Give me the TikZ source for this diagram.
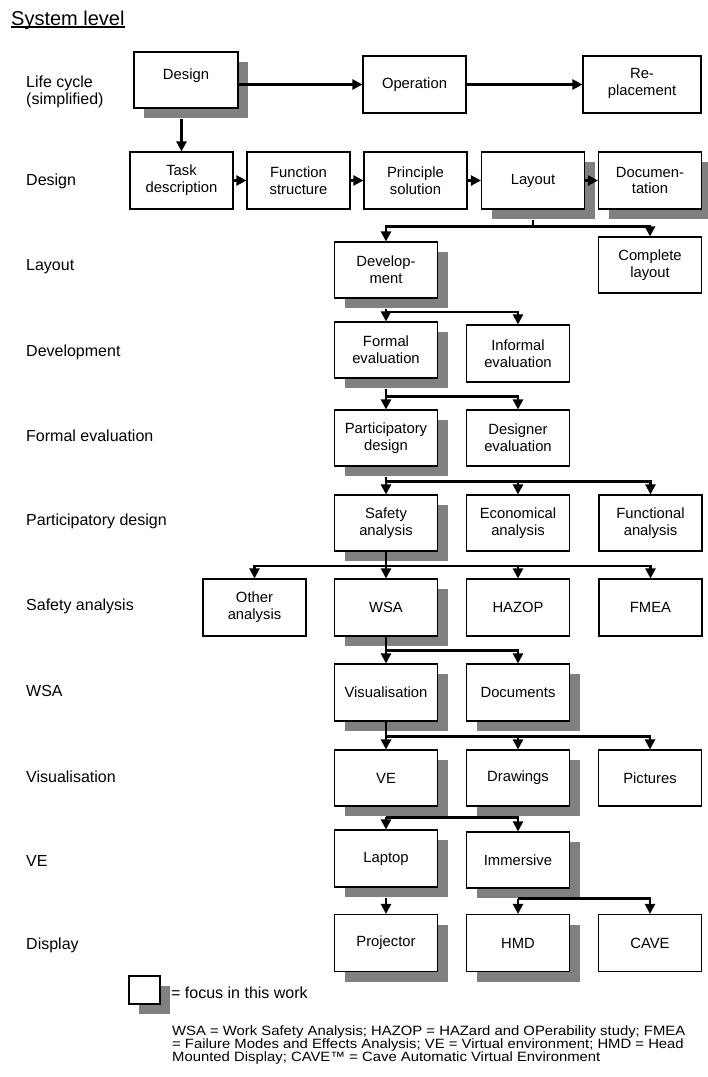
\documentclass[tikz,border=0pt]{standalone}
\usepackage{fontspec}
\setmainfont{Liberation Sans}
\newfontfamily\notefamily[FakeStretch=1.1]{Liberation Sans}
\usetikzlibrary{arrows.meta,shadows,calc}
\definecolor{shadowgray}{HTML}{808080}
\newcommand\bxfont{\fontsize{14.8}{16.7}\selectfont}
\newcommand\lblfont{\fontsize{16}{17}\selectfont}
\newcommand\ttlfont{\fontsize{20}{22}\selectfont}
\newcommand\notefont{\notefamily\fontsize{13.5}{13}\selectfont}

\begin{document}
\begin{tikzpicture}[x=1pt,y=-1pt,
  box/.style={draw=black, line width=1.1pt, fill=white, align=center, inner sep=2pt,
    minimum width=103pt, minimum height=57pt, font=\bxfont},
  focus/.style={box, drop shadow={shadow xshift=10pt, shadow yshift=-10pt,
    fill=shadowgray, opacity=1, draw=none}},
  rowlabel/.style={anchor=west, inner sep=0pt, align=left, font=\lblfont},
  noteline/.style={anchor=base west, inner sep=0pt, font=\notefont},
  conn/.style={line width=2.2pt, -{Triangle[width=10pt,length=10pt]}},
  wire/.style={line width=2.2pt}
]
\useasboundingbox (0,0) rectangle (708,1077);

% heading
\node[anchor=base west, inner sep=0pt, font=\ttlfont] (title) at (11,25) {System level};
\draw[line width=1.2pt] ([yshift=-2pt]title.base west) -- ([yshift=-2pt]title.base east);

% level labels
\node[rowlabel] (lLife) at (26,91.5) {Life cycle\\(simplified)};
\node[rowlabel] (lDesign) at (26,181) {Design};
\node[rowlabel] (lLayout) at (26,267) {Layout};
\node[rowlabel] (lDev) at (26,352) {Development};
\node[rowlabel] (lFormal) at (26,436) {Formal evaluation};
\node[rowlabel] (lPart) at (26,521) {Participatory design};
\node[rowlabel] (lSafety) at (26,606) {Safety analysis};
\node[rowlabel] (lWSA) at (26,691) {WSA};
\node[rowlabel] (lVis) at (26,777) {Visualisation};
\node[rowlabel] (lVE) at (26,861) {VE};
\node[rowlabel] (lDisp) at (26,945) {Display};

% life cycle
\node[focus, minimum width=104pt, minimum height=56pt] (Design) at (186,80) {\raisebox{1pt}[0pt][0pt]{Design}};
\node[box] (Operation) at (414.5,84.5) {\raisebox{1.5pt}{Operation}};
\node[box, minimum width=118pt] (Replacement) at (642,84.5) {Re-\\placement\\[-11pt]\mbox{}};

% design steps
\node[box] (Task) at (181.5,180.5) {Task\\description};
\node[box] (Function) at (298.5,180.5) {Function\\structure};
\node[box] (Principle) at (415.5,180.5) {Principle\\solution};
\node[focus] (Layout) at (533,180.5) {Layout};
\node[focus] (Documentation) at (650,180.5) {Documen-\\tation};

% layout
\node[focus, minimum height=56pt] (Development) at (386,270) {Develop-\\ment};
\node[box, minimum height=56pt] (Complete) at (650,265) {Complete\\layout};

% development
\node[focus, minimum height=56pt] (Formal) at (386,350) {Formal\\evaluation};
\node[box] (Informal) at (518,353.5) {Informal\\evaluation};

% formal evaluation
\node[focus, minimum height=56pt] (Participatory) at (386,438) {Participatory\\design};
\node[box, minimum height=56pt] (Designer) at (518,438) {Designer\\evaluation};

% participatory design
\node[focus, minimum height=56pt] (Safety) at (386,523) {Safety\\analysis};
\node[box, minimum height=56pt] (Economical) at (518,523) {Economical\\analysis};
\node[box, minimum height=56pt] (Functional) at (650.5,523) {Functional\\analysis};

% safety analysis
\node[box] (Other) at (254.5,607.5) {Other\\analysis};
\node[focus] (WSA) at (386,607.5) {WSA};
\node[box] (HAZOP) at (518,607.5) {HAZOP};
\node[box] (FMEA) at (650.5,607.5) {FMEA};

% WSA
\node[focus] (Visualisation) at (386,692.5) {Visualisation};
\node[focus] (Documents) at (518,692.5) {Documents};

% visualisation
\node[focus, minimum height=56pt] (VE) at (386,778) {VE};
\node[focus, minimum height=56pt] (Drawings) at (518,778) {Drawings};
\node[box, minimum height=56pt] (Pictures) at (650,778) {Pictures};

% VE
\node[focus] (Laptop) at (386,858.5) {Laptop};
\node[focus, minimum height=56pt] (Immersive) at (518,860) {Immersive};

% display
\node[focus] (Projector) at (386,943) {Projector};
\node[focus] (HMD) at (518,943) {HMD};
\node[box] (CAVE) at (650,943) {CAVE};

% key and abbreviations
\node[focus, minimum width=31pt, minimum height=28pt, inner sep=0pt] (key) at (144.5,990) {};
\node[anchor=base west, inner sep=0pt, font=\lblfont] (keytext) at (171,998) {= focus in this work};
\node[noteline] (abbr1) at (172,1035.5) {WSA = Work Safety Analysis; HAZOP = HAZard and OPerability study; FMEA};
\node[noteline] (abbr2) at (172,1048.5) {= Failure Modes and Effects Analysis; VE = Virtual environment; HMD = Head};
\node[noteline] (abbr3) at (172,1061.5) {Mounted Display; CAVE™ = Cave Automatic Virtual Environment};

% life cycle connectors
\draw[conn] (Design.east |- Operation.west) -- (Operation.west);
\draw[conn] (Operation.east) -- (Replacement.west);
\draw[conn] ($(Task.north |- Design.south)+(0,10)$) -- (Task.north);

% design sequence
\draw[conn] (Task.east) -- (Function.west);
\draw[conn] (Function.east) -- (Principle.west);
\draw[conn] (Principle.east) -- (Layout.west);
\draw[conn] (Layout.east) -- (Documentation.west);

% layout
\draw[wire] ($(Layout.south)+(0,10)$) -- ++(0,7);
\foreach \c in {Development,Complete}
  \draw[conn] ($(Layout.south)+(0,17)$) -| (\c.north);

% development
\draw[wire] ($(Development.south)+(0,10)$) -- ++(0,3.5);
\foreach \c in {Formal,Informal}
  \draw[conn] ($(Development.south)+(0,13.5)$) -| (\c.north);

% formal evaluation
\draw[wire] ($(Formal.south)+(0,10)$) -- ++(0,8);
\foreach \c in {Participatory,Designer}
  \draw[conn] ($(Formal.south)+(0,18)$) -| (\c.north);

% participatory design
\draw[wire] ($(Participatory.south)+(0,10)$) -- ++(0,5);
\foreach \c in {Safety,Economical,Functional}
  \draw[conn] ($(Participatory.south)+(0,15)$) -| (\c.north);

% safety analysis
\draw[wire] (Safety.south) -- ++(0,14.5);
\foreach \c in {Other,WSA,HAZOP,FMEA}
  \draw[conn] ($(Safety.south)+(0,14.5)$) -| (\c.north);

% WSA
\draw[wire] (WSA.south) -- ++(0,14);
\foreach \c in {Visualisation,Documents}
  \draw[conn] ($(WSA.south)+(0,14)$) -| (\c.north);

% visualisation
\draw[wire] (Visualisation.south) -- ++(0,15);
\foreach \c in {VE,Drawings,Pictures}
  \draw[conn] ($(Visualisation.south)+(0,15)$) -| (\c.north);

% VE
\draw[wire] ($(VE.south)+(0,10)$) -- ++(0,1);
\foreach \c in {Laptop,Immersive}
  \draw[conn] ($(VE.south)+(0,11)$) -| (\c.north);

% display
\draw[conn] ($(Laptop.south)+(0,10)$) -- (Projector.north);
\foreach \c in {HMD,CAVE}
  \draw[conn] ($(Immersive.south)+(0,10)$) -| (\c.north);
\end{tikzpicture}
\end{document}
